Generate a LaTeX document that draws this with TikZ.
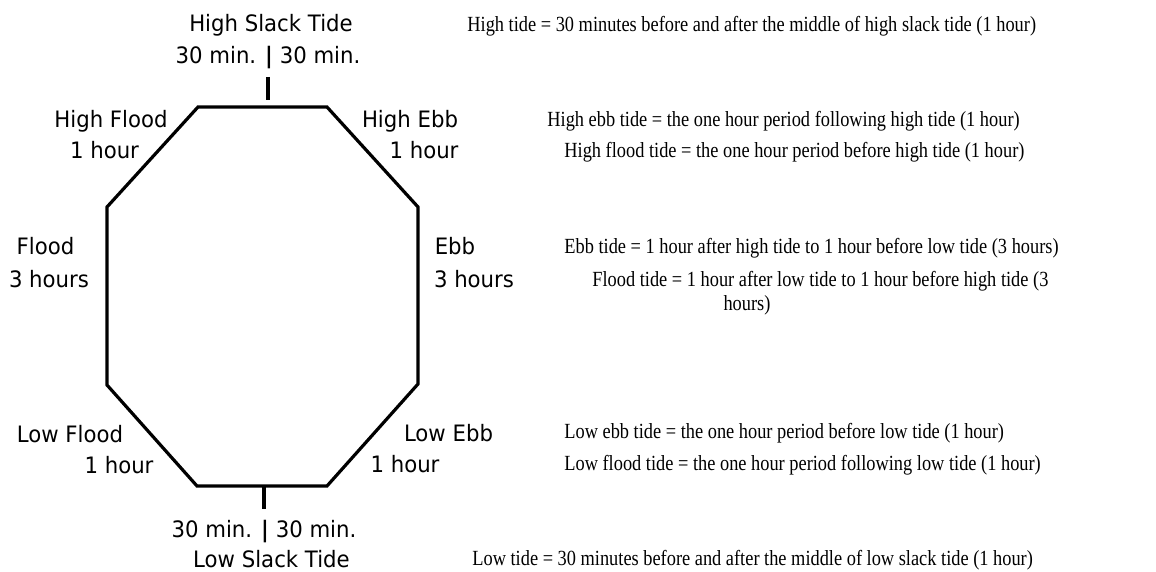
\documentclass[tikz,border=0pt]{standalone}
\usepackage{fontspec}
\newfontfamily\labelfont[FakeStretch=0.94]{DejaVu Sans}
\newfontfamily\notefont[FakeStretch=0.85]{Liberation Serif}
\begin{document}
\begin{tikzpicture}[x=0.5pt, y=-0.5pt, every node/.style={inner sep=0pt}, label/.style={font=\labelfont\fontsize{11.3}{13}\selectfont, anchor=base}, note/.style={font=\notefont\fontsize{10.8}{12}\selectfont, anchor=base west}, edge/.style={line width=1.6pt, line join=miter}, tick/.style={line width=2pt}]
        \useasboundingbox (0,0) rectangle (1156,572);
        \draw[edge] (198,107) -- (327,107) -- (418,207) -- (418,384) -- (327,486) -- (197,486) -- (107,385) -- (107,207) -- cycle;
        \draw[tick] (268,77) -- (268,100);
        \draw[tick] (264,487) -- (264,509);

        \node(highslack)[label] at (271,32) {High Slack Tide};
        \node(highsplit)[label] at (268,64) {30 min. {\bfseries|} 30 min.};
        \node(highflood)[label] at (111,128) {High Flood};
        \node(highfloodtime)[label] at (104.5,159) {1 hour};
        \node(highebb)[label] at (410,128) {High Ebb};
        \node(highebbtime)[label] at (424,159) {1 hour};
        \node(flood)[label] at (45.5,255) {Flood};
        \node(floodtime)[label] at (49,287) {3 hours};
        \node(ebb)[label] at (455,255) {Ebb};
        \node(ebbtime)[label] at (474,287) {3 hours};
        \node(lowflood)[label] at (70,442) {Low Flood};
        \node(lowfloodtime)[label] at (119,473) {1 hour};
        \node(lowebb)[label] at (448.5,441) {Low Ebb};
        \node(lowebbtime)[label] at (405,472) {1 hour};
        \node(lowsplit)[label] at (264,537) {30 min. {\bfseries|} 30 min.};
        \node(lowslack)[label] at (271.5,567) {Low Slack Tide};

        \node(hightide)[note] at (467,32) {High tide = 30 minutes before and after the middle of high slack tide (1 hour)};
        \node(highebbtide)[note] at (547,127) {High ebb tide = the one hour period following high tide (1 hour)};
        \node(highfloodtide)[note] at (564,158) {High flood tide = the one hour period before high tide (1 hour)};
        \node(ebbtide)[note] at (564,254) {Ebb tide = 1 hour after high tide to 1 hour before low tide (3 hours)};
        \node(floodtide)[note] at (592,286) {Flood tide = 1 hour after low tide to 1 hour before high tide (3};
        \node(floodtidemore)[note, anchor=base] at (747,310) {hours)};
        \node(lowebbtide)[note] at (564,438) {Low ebb tide = the one hour period before low tide (1 hour)};
        \node(lowfloodtide)[note] at (564,470) {Low flood tide = the one hour period following low tide (1 hour)};
        \node(lowtide)[note] at (472,565) {Low tide = 30 minutes before and after the middle of low slack tide (1 hour)};
    \end{tikzpicture}
\end{document}
